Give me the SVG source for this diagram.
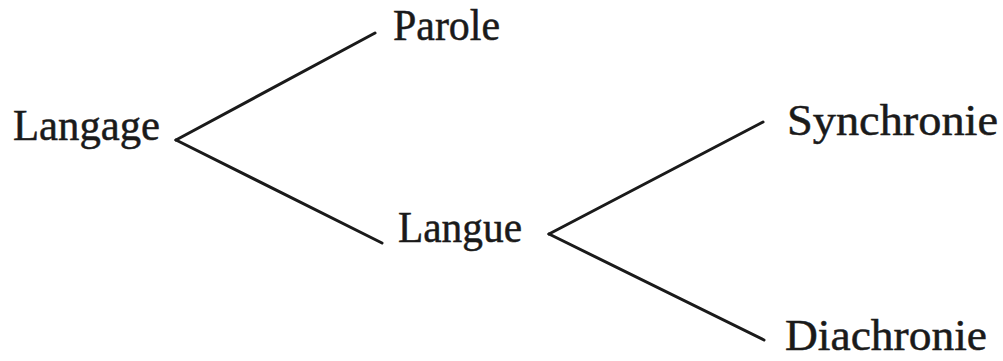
<svg xmlns="http://www.w3.org/2000/svg" width="1003" height="361" viewBox="0 0 1003 361">
  <style>
    .label { font-family: "Liberation Serif", "Times New Roman", serif; font-size: 44px; fill: #1a1a1a; stroke: #1a1a1a; stroke-width: 0.5; }
    .edge { stroke: #1a1a1a; stroke-width: 3; stroke-linecap: round; fill: none; }
  </style>
  <rect width="1003" height="361" fill="#ffffff"/>
  <!-- branching connectors -->
  <g id="connectors">
    <line class="edge" x1="176" y1="140" x2="375" y2="33"/>
    <line class="edge" x1="176" y1="140" x2="382" y2="243"/>
    <line class="edge" x1="549" y1="234" x2="763" y2="122"/>
    <line class="edge" x1="549" y1="234" x2="764" y2="340"/>
  </g>
  <g id="langage"><text class="label" x="13" y="140" textLength="147" lengthAdjust="spacingAndGlyphs">Langage</text></g>
  <g id="parole"><text class="label" x="393" y="40" textLength="107" lengthAdjust="spacingAndGlyphs">Parole</text></g>
  <g id="langue"><text class="label" x="398" y="242" textLength="124" lengthAdjust="spacingAndGlyphs">Langue</text></g>
  <g id="synchronie"><text class="label" x="787" y="135" textLength="211" lengthAdjust="spacingAndGlyphs">Synchronie</text></g>
  <g id="diachronie"><text class="label" x="785" y="350" textLength="202" lengthAdjust="spacingAndGlyphs">Diachronie</text></g>
</svg>
